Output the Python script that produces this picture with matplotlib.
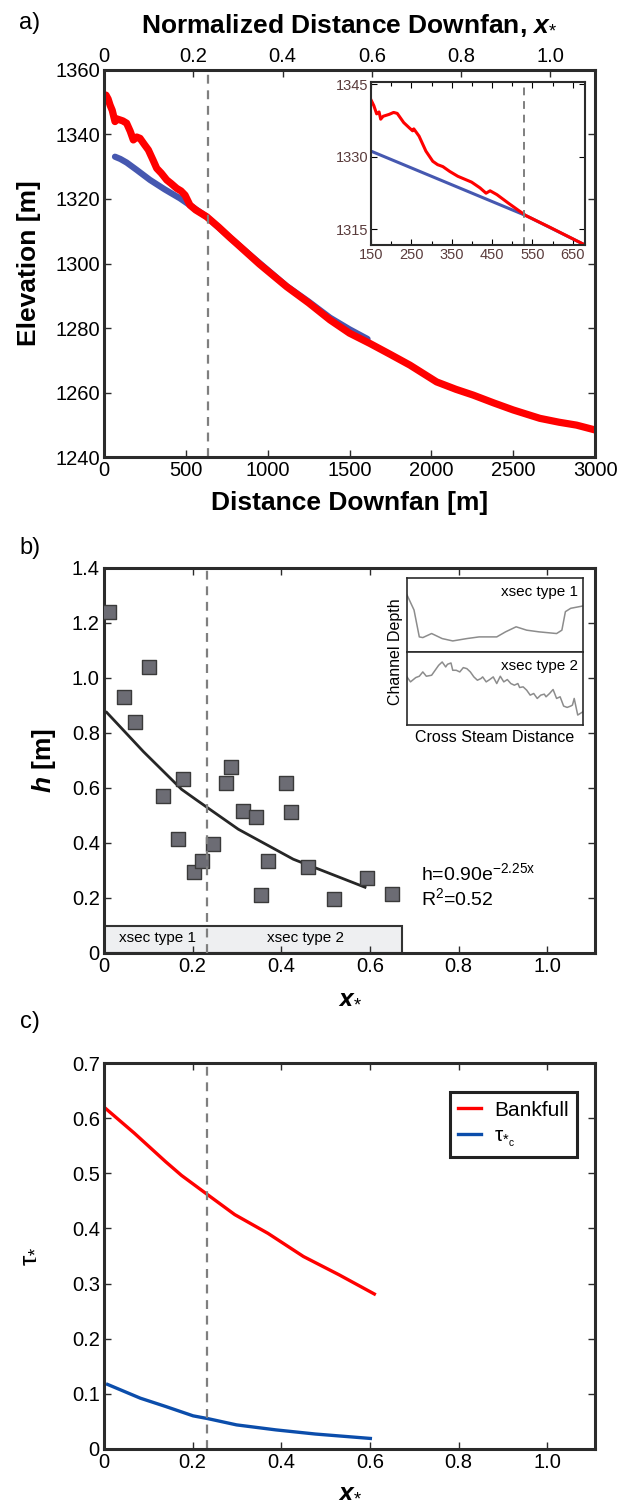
import matplotlib
matplotlib.use("Agg")
import matplotlib.pyplot as plt
from matplotlib.patches import Rectangle

plt.rcParams["font.family"] = ["Liberation Sans", "DejaVu Sans"]
plt.rcParams["mathtext.fontset"] = "custom"
plt.rcParams["mathtext.rm"] = "Liberation Sans"
plt.rcParams["mathtext.it"] = "Liberation Sans:italic"
plt.rcParams["mathtext.bf"] = "Liberation Sans:bold"
plt.rcParams["mathtext.bfit"] = "Liberation Sans:italic:bold"

C_RED = "#ff0000"
C_BLUE_A = "#4658b0"
C_BLUE_C = "#0b4dab"
C_DASH = "#7f7f7f"
C_SPINE = "#2b2b2b"

# ---- panel a: long profile --------------------------------------------
L_NORM = 2727.0          # m, length used for x*
X_DASH_M = 633.0
dist_red = [12, 25, 37, 50, 67, 80, 98, 115, 138, 160, 179, 200, 220, 245, 271,
            300, 322, 350, 383, 410, 444, 470, 495, 525, 560, 627, 700, 770,
            810, 950, 1116, 1250, 1381, 1500, 1625, 1750, 1869, 2032, 2150,
            2256, 2380, 2500, 2663, 2780, 2887, 3000]
elev_red = [1352.2, 1351.0, 1349.1, 1347.5, 1344.0, 1344.8, 1344.5, 1344.2,
            1343.5, 1341.0, 1338.3, 1339.2, 1338.8, 1337.0, 1335.2, 1332.0,
            1329.5, 1328.0, 1325.9, 1324.8, 1323.3, 1322.5, 1321.2, 1318.1,
            1316.6, 1314.5, 1311.3, 1308.0, 1306.2, 1299.8, 1292.8, 1287.8,
            1282.5, 1278.4, 1275.2, 1271.8, 1268.5, 1263.3, 1261.0, 1259.2,
            1256.8, 1254.6, 1252.0, 1250.8, 1249.9, 1248.4]
dist_blue = [67, 100, 138, 200, 281, 370, 464, 550, 627, 770, 900, 1116,
             1250, 1381, 1500, 1610]
elev_blue = [1333.1, 1332.4, 1331.3, 1329.0, 1325.9, 1323.0, 1320.2, 1317.2,
             1314.5, 1308.0, 1302.3, 1293.0, 1288.2, 1283.2, 1279.6, 1276.6]

# inset of panel a
ins_dist_red = [150, 157, 164, 170, 174, 180, 195, 206, 215, 231, 245, 253,
                256, 269, 286, 303, 315, 328, 345, 365, 399, 420, 435, 445,
                462, 491, 533, 592, 680]
ins_elev_red = [1341.8, 1340.6, 1338.9, 1339.3, 1337.8, 1338.4, 1338.8, 1339.2,
                1339.0, 1337.1, 1336.0, 1335.4, 1335.8, 1334.3, 1331.2, 1329.1,
                1328.4, 1328.0, 1327.0, 1326.0, 1324.8, 1323.6, 1322.5, 1323.0,
                1322.2, 1320.4, 1317.9, 1315.5, 1311.8]
ins_dist_blue = [150, 533, 680]
ins_elev_blue = [1331.2, 1317.9, 1311.8]
INS_DASH = 530

# ---- panel b: channel depth ---------------------------------------------
xs_pts = [0.011, 0.044, 0.069, 0.101, 0.132, 0.166, 0.179, 0.202, 0.220, 0.247,
          0.275, 0.287, 0.314, 0.343, 0.355, 0.369, 0.411, 0.423, 0.461, 0.518,
          0.593, 0.649]
h_pts = [1.241, 0.932, 0.841, 1.039, 0.572, 0.413, 0.633, 0.293, 0.336, 0.396,
         0.617, 0.675, 0.517, 0.493, 0.210, 0.336, 0.617, 0.512, 0.314, 0.195,
         0.271, 0.213]
xs_fit = [0.006, 0.089, 0.175, 0.209, 0.303, 0.427, 0.589]
h_fit = [0.875, 0.732, 0.595, 0.556, 0.450, 0.341, 0.239]
X_DASH = 0.232
XSEC_END = 0.672
XSEC_TOP = 0.098

# cross sections shown in inset of panel b
xsec1_x = [0, 4, 7, 9, 14, 20, 26, 34, 41, 51, 56, 62, 68, 75, 85, 88, 90,
           93, 100]
xsec1_d = [75, 120, 200, 202, 190, 205, 212, 205, 200, 200, 185, 170, 180,
           185, 190, 180, 125, 115, 108]
xsec2_x = [0, 2, 5, 7, 9, 11, 14, 16, 18, 20, 22, 23, 25, 26, 28, 30, 32, 34,
           36, 38, 40, 42, 43, 45, 47, 49, 51, 53, 55, 57, 59, 61, 63, 64, 66,
           68, 70, 72, 74, 76, 78, 79, 81, 83, 85, 87, 89, 91, 93, 94, 95, 97,
           100]
xsec2_d = [320, 335, 322, 318, 305, 318, 315, 300, 285, 275, 290, 282, 278,
           300, 300, 305, 292, 295, 305, 320, 330, 325, 320, 335, 328, 320, 340,
           318, 335, 328, 340, 345, 340, 352, 350, 360, 375, 370, 385, 375, 372,
           380, 370, 358, 385, 380, 408, 412, 408, 405, 385, 435, 425]

# ---- panel c: Shields stress --------------------------------------------
xs_bank = [0.0, 0.068, 0.139, 0.175, 0.234, 0.295, 0.370, 0.450, 0.530, 0.610]
tau_bank = [0.620, 0.573, 0.521, 0.496, 0.461, 0.425, 0.391, 0.349, 0.316, 0.281]
xs_crit = [0.008, 0.082, 0.139, 0.201, 0.234, 0.299, 0.388, 0.477, 0.601]
tau_crit = [0.117, 0.092, 0.077, 0.060, 0.055, 0.0436, 0.0345, 0.027, 0.019]

xstar_ticks = [0, 0.2, 0.4, 0.6, 0.8, 1.0]
xstar_labels = ["0", "0.2", "0.4", "0.6", "0.8", "1.0"]

TICK_FS = 14.5
LAB_FS = 19


def style_box(ax, lw=2.2):
    for s in ax.spines.values():
        s.set_linewidth(lw)
        s.set_color(C_SPINE)
    ax.tick_params(direction="in", top=True, right=True, length=5, width=1,
                   color=C_SPINE, labelsize=TICK_FS, pad=3)


fig = plt.figure(figsize=(6.17, 15.01), dpi=100)

# ---------------- panel a ----------------
ax_a = fig.add_axes([0.1686, 0.6955, 0.7958, 0.2579])
ax_a.plot(dist_blue, elev_blue, color=C_BLUE_A, lw=4.5, solid_capstyle="round")
ax_a.plot(dist_red, elev_red, color=C_RED, lw=5.2, solid_capstyle="round")
ax_a.axvline(X_DASH_M, color=C_DASH, lw=1.6, ls=(0, (4, 3)))
ax_a.set_xlim(0, 3000)
ax_a.set_ylim(1240, 1360)
ax_a.set_xticks(range(0, 3001, 500))
ax_a.set_yticks(range(1240, 1361, 20))
style_box(ax_a)
ax_a.tick_params(top=False)
ax_a.set_xlabel("Distance Downfan [m]", fontsize=LAB_FS, fontweight="bold",
                labelpad=8)
ax_a.set_ylabel("Elevation [m]", fontsize=LAB_FS, fontweight="bold",
                labelpad=10)
sec = ax_a.secondary_xaxis("top", functions=(lambda d: d / L_NORM,
                                             lambda s: s * L_NORM))
sec.set_xticks(xstar_ticks)
sec.set_xticklabels(xstar_labels)
sec.tick_params(direction="in", length=5, width=1, color=C_SPINE,
                labelsize=TICK_FS, pad=3)
sec.set_xlabel(r"Normalized Distance Downfan, $\mathbfit{x}_{*}$",
               fontsize=LAB_FS, fontweight="bold", labelpad=10)

# inset
ax_i = fig.add_axes([0.6013, 0.8368, 0.3468, 0.1086])
ax_i.plot(ins_dist_blue, ins_elev_blue, color=C_BLUE_A, lw=2.2)
ax_i.plot(ins_dist_red, ins_elev_red, color=C_RED, lw=2.2)
ax_i.axvline(INS_DASH, color=C_DASH, lw=1.4, ls=(0, (4, 3)))
ax_i.set_xlim(150, 680)
ax_i.set_ylim(1311.8, 1345.5)
ax_i.set_xticks(range(150, 651, 100))
ax_i.set_xticks(range(200, 681, 100), minor=True)
ax_i.set_yticks([1315, 1330, 1345])
for s in ax_i.spines.values():
    s.set_linewidth(1.5)
    s.set_color(C_SPINE)
ax_i.tick_params(direction="in", top=True, right=True, length=4, width=0.8,
                 labelsize=10.5, labelcolor="#5a3c3c", pad=2)
ax_i.tick_params(which="minor", direction="in", top=True, right=True,
                 length=3, width=0.8)

# ---------------- panel b ----------------
ax_b = fig.add_axes([0.1686, 0.3651, 0.7958, 0.2565])
ax_b.add_patch(Rectangle((0, 0), XSEC_END, XSEC_TOP, facecolor="#eeeff1",
                         edgecolor="#333333", lw=1.5, zorder=1))
ax_b.text(0.12, 0.054, "xsec type 1", fontsize=11, ha="center", va="center")
ax_b.text(0.454, 0.054, "xsec type 2", fontsize=11, ha="center", va="center")
ax_b.plot(xs_fit, h_fit, color="#262626", lw=2, zorder=3)
ax_b.scatter(xs_pts, h_pts, marker="s", s=95, facecolor="#6c6c74",
             edgecolor="#3a3a3a", lw=1, zorder=4)
ax_b.axvline(X_DASH, color=C_DASH, lw=1.6, ls=(0, (4, 3)), zorder=5)
ax_b.text(0.715, 0.29, r"h=0.90e$^{\mathrm{-2.25x}}$", fontsize=14,
          va="center")
ax_b.text(0.715, 0.20, r"R$^{2}$=0.52", fontsize=14, va="center")
ax_b.set_xlim(0, 1.108)
ax_b.set_ylim(0, 1.4)
ax_b.set_xticks(xstar_ticks)
ax_b.set_xticklabels(xstar_labels)
ax_b.set_yticks([0, 0.2, 0.4, 0.6, 0.8, 1.0, 1.2, 1.4])
ax_b.set_yticklabels(["0", "0.2", "0.4", "0.6", "0.8", "1.0", "1.2", "1.4"])
style_box(ax_b)
ax_b.set_xlabel(r"$\mathbfit{x}_{*}$", fontsize=LAB_FS, labelpad=6)
ax_b.set_ylabel(r"$\mathbfit{h}$ [m]", fontsize=LAB_FS, fontweight="bold",
                labelpad=10)

# inset of cross sections
for rect, xx, dd, lab, ylim in [
        ([0.6596, 0.5656, 0.2853, 0.0493], xsec1_x, xsec1_d, "xsec type 1",
         (245, 25)),
        ([0.6596, 0.5170, 0.2853, 0.0486], xsec2_x, xsec2_d, "xsec type 2",
         (465, 245))]:
    ax_x = fig.add_axes(rect)
    ax_x.plot(xx, dd, color="#8c8c8c", lw=1.1)
    ax_x.set_xlim(0, 100)
    ax_x.set_ylim(*ylim)
    ax_x.set_xticks([])
    ax_x.set_yticks([])
    for s in ax_x.spines.values():
        s.set_linewidth(1.2)
        s.set_color(C_SPINE)
    ax_x.text(0.97, 0.9, lab, transform=ax_x.transAxes, fontsize=11,
              ha="right", va="top")
fig.text(0.802, 0.5085, "Cross Steam Distance", fontsize=11.5,
         ha="center", va="center")
fig.text(0.641, 0.5656, "Channel Depth", fontsize=11.5, rotation=90,
         ha="center", va="center")

# ---------------- panel c ----------------
ax_c = fig.add_axes([0.1686, 0.0347, 0.7958, 0.2571])
ax_c.plot(xs_bank, tau_bank, color=C_RED, lw=2.4, label="Bankfull")
ax_c.plot(xs_crit, tau_crit, color=C_BLUE_C, lw=2.4,
          label=r"$\mathrm{\tau}_{*_{\mathrm{c}}}$")
ax_c.axvline(X_DASH, color=C_DASH, lw=1.6, ls=(0, (4, 3)))
ax_c.set_xlim(0, 1.108)
ax_c.set_ylim(0, 0.7)
ax_c.set_xticks(xstar_ticks)
ax_c.set_xticklabels(xstar_labels)
ax_c.set_yticks([0, 0.1, 0.2, 0.3, 0.4, 0.5, 0.6, 0.7])
ax_c.set_yticklabels(["0", "0.1", "0.2", "0.3", "0.4", "0.5", "0.6", "0.7"])
style_box(ax_c)
ax_c.set_xlabel(r"$\mathbfit{x}_{*}$", fontsize=LAB_FS, labelpad=4)
ax_c.set_ylabel(r"$\mathrm{\tau}_{*}$", fontsize=LAB_FS, labelpad=24)
leg = ax_c.legend(loc="upper right", bbox_to_anchor=(0.963, 0.924),
                  borderaxespad=0, fontsize=15, fancybox=False,
                  framealpha=1, edgecolor="#222222", handlelength=1.1,
                  handletextpad=0.6, borderpad=0.4, labelspacing=0.3)
leg.get_frame().set_linewidth(2.2)

# panel letters
fig.text(0.048, 0.985, "a)", fontsize=17, ha="center", va="center")
fig.text(0.048, 0.635, "b)", fontsize=17, ha="center", va="center")
fig.text(0.048, 0.319, "c)", fontsize=17, ha="center", va="center")

fig.savefig("out.png", dpi=100)
